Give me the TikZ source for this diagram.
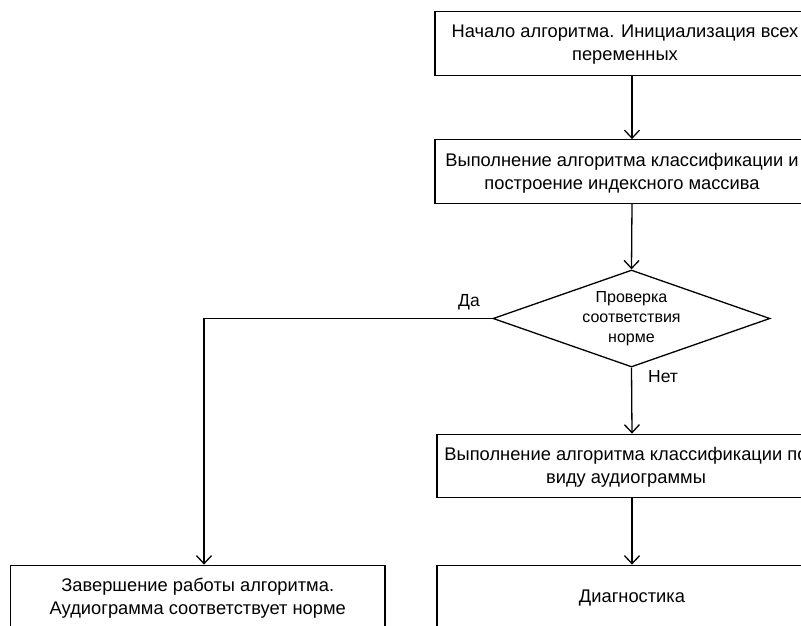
\documentclass[tikz,border=0pt]{standalone}
\usepackage{fontspec}
\setmainfont{Liberation Sans}
\usetikzlibrary{arrows.meta,shapes.geometric}
\begin{document}
\begin{tikzpicture}[x=1pt,y=-1pt,
  box/.style={draw, line width=1.3pt, minimum height=63.5pt, inner sep=0pt},
  txt/.style={align=center, font=\fontsize{18.3}{23}\selectfont, inner sep=0pt},
  dtxt/.style={align=center, font=\fontsize{16}{20}\selectfont, inner sep=0pt},
  lbl/.style={font=\fontsize{17.5}{20}\selectfont, inner sep=0pt},
  flow/.style={line width=1.3pt, -{Straight Barb[length=8pt,width=15pt]}},
  decision/.style={draw, diamond, line width=1.3pt, minimum width=277pt,
    minimum height=97pt, inner sep=0pt}]
\useasboundingbox (0,0) rectangle (801,625);
\clip (0,0) rectangle (801,625);

% process boxes (outlines) and their captions
\node[box, minimum width=394pt] (b1) at (632,43.5) {};
\node[txt] (t1) at (625,45) {Начало алгоритма. Инициализация всех\\переменных};

\node[box, minimum width=394pt] (b2) at (632,171.5) {};
\node[txt] (t2) at (622,173) {Выполнение алгоритма классификации и\\построение индексного массива};

\node[decision] (dec) at (631.5,318.5) {};
\node[dtxt] (dt) at (631.5,319) {Проверка\\соответствия\\норме};

\node[box, minimum width=390pt] (b3) at (632,466) {};
\node[txt] (t3) at (626,467.5) {Выполнение алгоритма классификации по\\виду аудиограммы};

\node[box, minimum width=390pt] (b4) at (632,597) {};
\node[txt] (t4) at (632,598) {Диагностика};

\node[box, minimum width=374.5pt] (b5) at (197.75,597) {};
\node[txt] (t5) at (197.75,598) {Завершение работы алгоритма.\\Аудиограмма соответствует норме};

% branch labels
\node[lbl, anchor=east] (yes) at (480,302) {Да};
\node[lbl, anchor=west] (no) at (648,377) {Нет};

% connectors
\coordinate (turn) at (204,318.5);
\draw[flow] (b1.south) -- (b2.north);
\draw[flow] (b2.south) -- (dec.north);
\draw[flow] (dec.south) -- (b3.north);
\draw[flow] (b3.south) -- (b4.north);
\draw[flow] (dec.west) -- (turn) -- (turn |- b5.north);
\end{tikzpicture}
\end{document}
